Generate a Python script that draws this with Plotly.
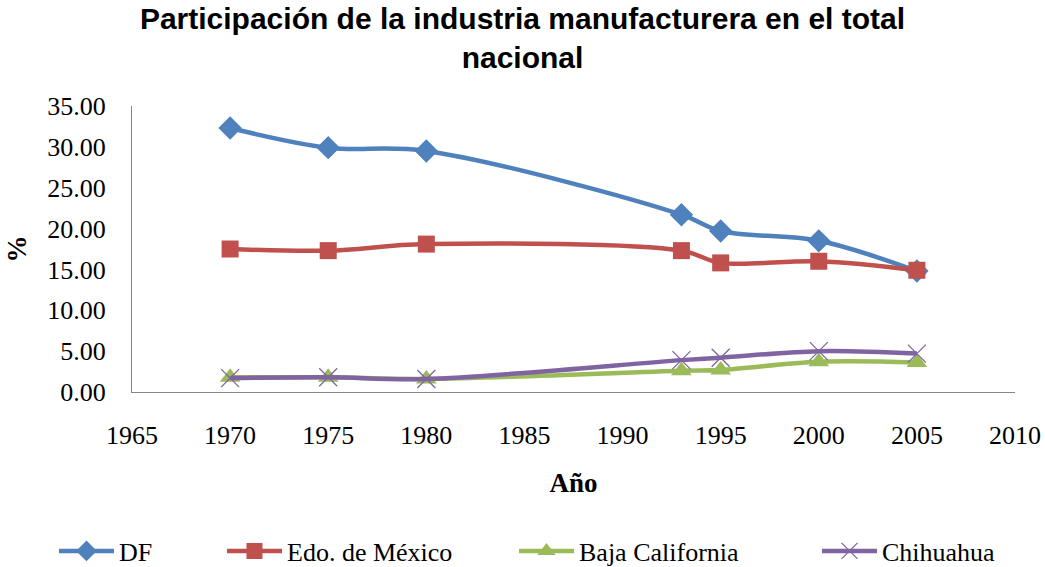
import plotly.graph_objects as go

years = [1970, 1975, 1980, 1993, 1995, 2000, 2005]
df_vals = [32.3, 29.9, 29.5, 21.7, 19.7, 18.5, 14.8]
edomex_vals = [17.5, 17.3, 18.1, 17.3, 15.8, 16.0, 14.9]
baja_vals = [1.8, 1.8, 1.6, 2.6, 2.7, 3.7, 3.6]
chihuahua_vals = [1.7, 1.8, 1.6, 3.9, 4.2, 5.0, 4.7]

SERIF = "Liberation Serif, Times New Roman, serif"
SANS = "Liberation Sans, Arial, sans-serif"

series = [
    ("DF", df_vals, "#4F81BD", "diamond", 18, "legend"),
    ("Edo. de México", edomex_vals, "#C0504D", "square", 17, "legend2"),
    ("Baja California", baja_vals, "#9BBB59", "triangle-up", 18, "legend3"),
    ("Chihuahua", chihuahua_vals, "#8064A2", "x-thin-open", 18, "legend4"),
]

fig = go.Figure()
for name, vals, color, symbol, size, leg in series:
    marker = dict(symbol=symbol, size=size, color=color)
    if symbol == "x-thin-open":
        marker["line"] = dict(color="#A08CC8", width=1.3)
    fig.add_scatter(
        x=years,
        y=vals,
        name=name,
        mode="lines+markers",
        line=dict(color=color, width=4.5, shape="spline"),
        marker=marker,
        legend=leg,
    )

# one legend per series so each entry can sit where the reference has it
leg_x = [54, 222, 514, 817]
legend_common = dict(
    orientation="h",
    xref="container",
    yref="container",
    y=1 - 551 / 567,
    yanchor="middle",
    xanchor="left",
    itemwidth=55,
    font=dict(family=SERIF, size=26, color="black"),
    bgcolor="rgba(0,0,0,0)",
)

fig.update_layout(
    width=1045,
    height=567,
    margin=dict(l=132, r=30, t=106, b=175),
    plot_bgcolor="white",
    paper_bgcolor="white",
    title=dict(
        text="Participación de la industria manufacturera en el total<br>nacional",
        x=0.5,
        xanchor="center",
        xref="container",
        y=1 - 29 / 567,
        yanchor="middle",
        font=dict(family=SANS, size=30, color="black", weight="bold"),
    ),
    showlegend=True,
    legend=dict(legend_common, x=leg_x[0] / 1045),
    legend2=dict(legend_common, x=leg_x[1] / 1045),
    legend3=dict(legend_common, x=leg_x[2] / 1045),
    legend4=dict(legend_common, x=leg_x[3] / 1045),
)

fig.update_xaxes(
    range=[1965, 2010],
    dtick=5,
    tick0=1965,
    automargin=False,
    showgrid=False,
    zeroline=False,
    showline=True,
    linecolor="#868686",
    linewidth=1,
    ticks="outside",
    ticklen=20,
    tickcolor="rgba(0,0,0,0)",
    tickfont=dict(family=SERIF, size=26, color="black"),
    title=dict(
        text="Año",
        standoff=23,
        font=dict(family=SERIF, size=27, color="black", weight="bold"),
    ),
)
fig.update_yaxes(
    range=[0, 35],
    dtick=5,
    tickformat=".2f",
    automargin=False,
    showgrid=False,
    zeroline=False,
    showline=True,
    linecolor="#868686",
    linewidth=1,
    ticks="outside",
    ticklen=20,
    tickcolor="rgba(0,0,0,0)",
    tickfont=dict(family=SERIF, size=26, color="black"),
    title=dict(
        text="%",
        standoff=12,
        font=dict(family=SERIF, size=27, color="black", weight="bold"),
    ),
)

# the page body has a default 8px margin; drop it so the figure fills the window
fig.write_html(
    "out.html",
    config={"displayModeBar": False},
    post_script="document.body.style.margin='0';",
)
